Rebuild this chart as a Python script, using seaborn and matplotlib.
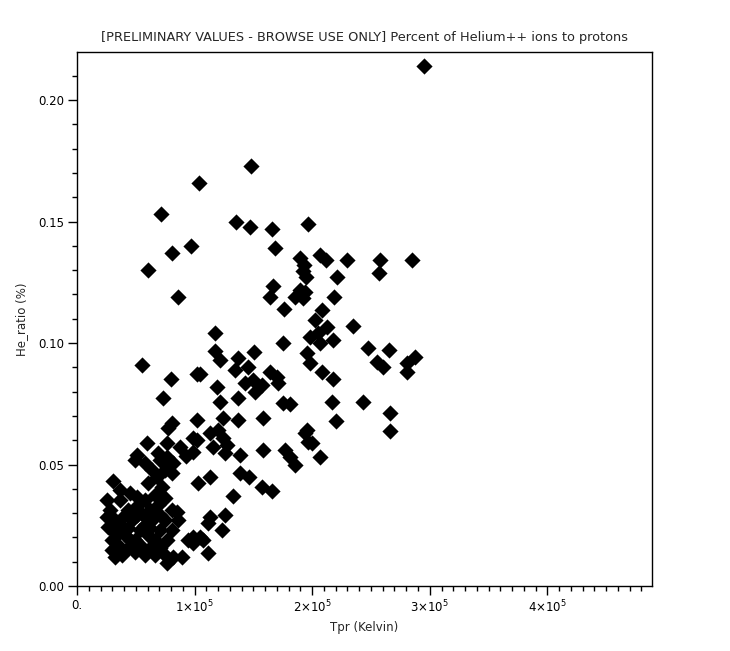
import matplotlib
matplotlib.use("Agg")
import matplotlib.pyplot as plt
from matplotlib.ticker import MultipleLocator, FixedLocator, FixedFormatter
import seaborn as sns
import pandas as pd

# Tpr in thousands of Kelvin, He_ratio in %
tpr_k = [
    295.3, 148.1, 103.8, 71.2, 135.3, 147.2, 196.2, 166.0, 97.0, 168.5,
    80.9, 60.4, 86.0, 189.8, 206.8, 211.9, 229.8, 257.9, 285.1, 193.2,
    192.3, 194.9, 221.3, 257.0, 166.8, 164.3, 189.8, 185.5, 194.1, 218.7,
    176.2, 192.3, 202.6, 208.5, 212.8, 205.1, 206.8, 217.9, 198.3, 234.9,
    117.5, 175.3, 117.5, 121.7, 150.6, 137.0, 134.5, 104.7, 145.5, 164.3,
    170.2, 149.8, 157.5, 119.2, 247.7, 265.5, 255.3, 260.4, 287.7, 280.9,
    280.9, 195.8, 198.3, 208.5, 217.9, 217.0, 243.4, 266.4, 266.4, 220.4,
    195.8, 200.0, 206.8, 55.3, 80.0, 102.1, 73.2, 80.9, 77.5, 102.1,
    59.6, 76.6, 87.7, 98.7, 143.0, 151.5, 171.1, 121.7, 137.0, 175.3,
    181.3, 124.3, 120.0, 113.2, 124.3, 127.7, 115.7, 126.0, 102.1, 98.7,
    137.0, 158.3, 158.3, 177.0, 181.3, 185.5, 138.7, 138.7, 146.4, 194.1,
    196.6, 113.2, 103.0, 157.5, 166.0, 132.8, 126.0, 113.2, 123.4, 111.5,
    104.7, 98.7, 107.2, 111.5,
    25.5, 30.6, 32.3, 36.6, 45.1, 51.1, 49.4, 51.1, 57.9, 68.9,
    70.6, 76.6, 81.7, 74.9, 80.9, 68.1, 60.4, 72.3, 74.9, 80.9,
    85.1, 80.9, 62.1, 76.6, 89.4, 73.2, 81.7, 94.5, 98.7, 92.8,
    28.1, 32.3, 29.8, 36.6, 40.9, 34.9, 43.4, 38.3, 49.4, 53.6,
    57.9, 62.1, 66.4, 60.4, 53.6, 46.8, 43.4, 51.9, 57.9, 62.1,
    68.9, 66.4, 70.6, 74.9, 57.9, 45.1, 34.0, 40.9, 49.4, 66.4,
    70.6, 29.8, 36.6, 51.1, 70.6, 76.6, 86.0, 63.8,
    25.5, 26.4, 29.8, 56.2, 43.4, 63.8,
]
he_ratio = [
    0.2140, 0.1728, 0.1658, 0.1531, 0.1499, 0.1479, 0.1490, 0.1469, 0.1399, 0.1391,
    0.1370, 0.1300, 0.1189, 0.1350, 0.1362, 0.1341, 0.1341, 0.1341, 0.1341, 0.1321,
    0.1296, 0.1272, 0.1272, 0.1288, 0.1235, 0.1189, 0.1218, 0.1189, 0.1210, 0.1189,
    0.1140, 0.1185, 0.1095, 0.1136, 0.1066, 0.1041, 0.1000, 0.1012, 0.1025, 0.1070,
    0.1041, 0.1000, 0.0967, 0.0930, 0.0963, 0.0938, 0.0889, 0.0872, 0.0901, 0.0881,
    0.0860, 0.0848, 0.0827, 0.0819, 0.0979, 0.0971, 0.0922, 0.0901, 0.0942, 0.0918,
    0.0881, 0.0959, 0.0918, 0.0881, 0.0852, 0.0757, 0.0757, 0.0712, 0.0638, 0.0679,
    0.0642, 0.0588, 0.0531, 0.0909, 0.0852, 0.0872, 0.0774, 0.0671, 0.0650, 0.0683,
    0.0588, 0.0588, 0.0572, 0.0609, 0.0835, 0.0798, 0.0835, 0.0757, 0.0774, 0.0753,
    0.0749, 0.0691, 0.0642, 0.0630, 0.0609, 0.0580, 0.0572, 0.0547, 0.0601, 0.0551,
    0.0683, 0.0691, 0.0560, 0.0560, 0.0531, 0.0498, 0.0539, 0.0465, 0.0449, 0.0630,
    0.0593, 0.0449, 0.0424, 0.0407, 0.0391, 0.0370, 0.0292, 0.0284, 0.0230, 0.0259,
    0.0202, 0.0177, 0.0189, 0.0136,
    0.0354, 0.0432, 0.0119, 0.0395, 0.0383, 0.0366, 0.0518, 0.0539, 0.0506, 0.0547,
    0.0518, 0.0531, 0.0506, 0.0477, 0.0465, 0.0449, 0.0424, 0.0407, 0.0362, 0.0313,
    0.0305, 0.0230, 0.0239, 0.0095, 0.0119, 0.0136, 0.0119, 0.0189, 0.0202, 0.0535,
    0.0313, 0.0272, 0.0230, 0.0251, 0.0210, 0.0169, 0.0156, 0.0128, 0.0140, 0.0169,
    0.0128, 0.0156, 0.0189, 0.0210, 0.0230, 0.0272, 0.0313, 0.0333, 0.0354, 0.0313,
    0.0333, 0.0374, 0.0292, 0.0272, 0.0251, 0.0189, 0.0210, 0.0292, 0.0189, 0.0128,
    0.0156, 0.0189, 0.0354, 0.0292, 0.0230, 0.0189, 0.0272, 0.0477,
    0.0284, 0.0243, 0.0148, 0.0292, 0.0239, 0.0272,
]

x_ticks = [0, 100000, 200000, 300000, 400000]
x_tick_labels = ["0.", r"1×10$^5$", r"2×10$^5$", r"3×10$^5$", r"4×10$^5$"]
y_ticks = [0.00, 0.05, 0.10, 0.15, 0.20]
y_tick_labels = ["0.00", "0.05", "0.10", "0.15", "0.20"]

df = pd.DataFrame({"Tpr": [v * 1000 for v in tpr_k], "He_ratio": he_ratio})

sns.set_style("ticks")
plt.rcParams["font.family"] = ["DejaVu Sans"]

fig = plt.figure(figsize=(7.30, 6.51), dpi=100)
ax = fig.add_axes([77 / 730, 65 / 651, 575 / 730, 534 / 651])

sns.scatterplot(data=df, x="Tpr", y="He_ratio", marker="D", s=68,
                color="black", linewidth=0, ax=ax, legend=False)

ax.set_xlim(0, 489000)
ax.set_ylim(0, 0.2198)

ax.xaxis.set_major_locator(FixedLocator(x_ticks))
ax.xaxis.set_major_formatter(FixedFormatter(x_tick_labels))
ax.xaxis.set_minor_locator(MultipleLocator(10000))
ax.yaxis.set_major_locator(FixedLocator(y_ticks))
ax.yaxis.set_major_formatter(FixedFormatter(y_tick_labels))
ax.yaxis.set_minor_locator(MultipleLocator(0.01))

ax.tick_params(axis="both", which="major", direction="out", length=6.5,
               width=1, color="black", labelsize=8.5, labelcolor="black", pad=3)
ax.tick_params(axis="both", which="minor", direction="out", length=3.6,
               width=1, color="black")
ax.tick_params(top=False, right=False, which="both")
for s in ax.spines.values():
    s.set_visible(True)
    s.set_color("black")
    s.set_linewidth(1)

ax.set_xlabel("Tpr (Kelvin)", fontsize=8.5, labelpad=4)
ax.set_ylabel("He_ratio (%)", fontsize=8.5, labelpad=7)
ax.set_title("[PRELIMINARY VALUES - BROWSE USE ONLY] Percent of Helium++ ions to protons",
             fontsize=9.3, pad=8)

fig.savefig("out.png", dpi=100, facecolor="white")
